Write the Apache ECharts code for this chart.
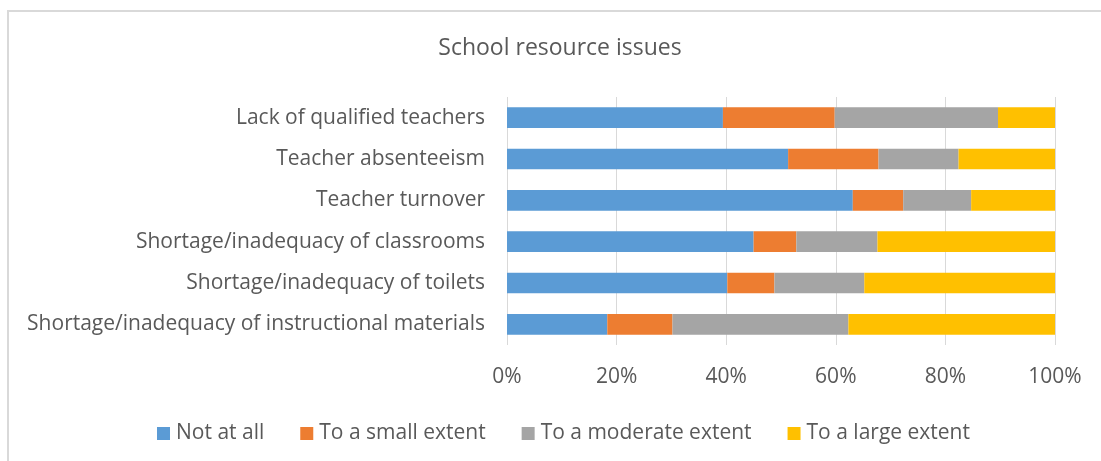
<!DOCTYPE html>
<html>
<head>
<meta charset="utf-8">
<script src="https://cdn.jsdelivr.net/npm/echarts@6/dist/echarts.min.js"></script>
<style>
html,body{margin:0;padding:0;background:#fff;}
#c{width:1101px;height:461px;}
</style>
</head>
<body>
<div id="c"></div>
<script>
const categories = [
  "Lack of qualified teachers",
  "Teacher absenteeism",
  "Teacher turnover",
  "Shortage/inadequacy of classrooms",
  "Shortage/inadequacy of toilets",
  "Shortage/inadequacy of instructional materials"
];
const seriesNames = ["Not at all", "To a small extent", "To a moderate extent", "To a large extent"];
const notAtAll      = [39.4, 51.3, 63.1, 45.0, 40.2, 18.3];
const smallExtent   = [20.4, 16.5,  9.2,  7.8,  8.6, 11.9];
const moderateExtent= [29.8, 14.6, 12.4, 14.8, 16.4, 32.1];
const largeExtent   = [10.4, 17.6, 15.3, 32.4, 34.8, 37.7];
const colors = ["#5B9BD5", "#ED7D31", "#A5A5A5", "#FFC000"];
const tickValues = [0, 20, 40, 60, 80, 100];

const FONT = "Open Sans";
const TXT = "#595959";
const allData = [notAtAll, smallExtent, moderateExtent, largeExtent];

const chart = echarts.init(document.getElementById('c'), null, {renderer: 'canvas'});
chart.setOption({
  animation: false,
  backgroundColor: '#ffffff',
  color: colors,
  graphic: [{
    type: 'rect',
    shape: {x: 8, y: 11, width: 1200, height: 600},
    style: {fill: 'none', stroke: '#D9D9D9', lineWidth: 2},
    silent: true, z: -1
  }],
  title: {
    text: 'School resource issues',
    left: 555, top: 32, textAlign: 'center',
    textStyle: {fontFamily: FONT, fontSize: 23, fontWeight: 'normal', color: TXT}
  },
  legend: {
    data: seriesNames,
    left: 152, top: 418,
    itemWidth: 13, itemHeight: 13, itemGap: 36,
    icon: 'rect',
    textStyle: {fontFamily: FONT, fontSize: 21, color: TXT, padding: [0,0,0,1]}
  },
  grid: {left: 507, right: 46, top: 97, bottom: 116, containLabel: false},
  xAxis: {
    type: 'value', min: tickValues[0], max: tickValues[tickValues.length-1], interval: 20,
    axisLine: {show: false}, axisTick: {show: false},
    splitLine: {show: true, lineStyle: {color: '#D9D9D9', width: 1}},
    axisLabel: {formatter: '{value}%', fontFamily: FONT, fontSize: 21, color: TXT, margin: 22}
  },
  yAxis: {
    type: 'category', data: categories, inverse: true,
    axisLine: {show: false}, axisTick: {show: false},
    axisLabel: {fontFamily: FONT, fontSize: 21, color: TXT, margin: 22}
  },
  series: seriesNames.map((n, i) => ({
    name: n, type: 'bar', stack: 'total', data: allData[i],
    barCategoryGap: '50%',
    itemStyle: {color: colors[i]}
  }))
});
</script>
</body>
</html>
